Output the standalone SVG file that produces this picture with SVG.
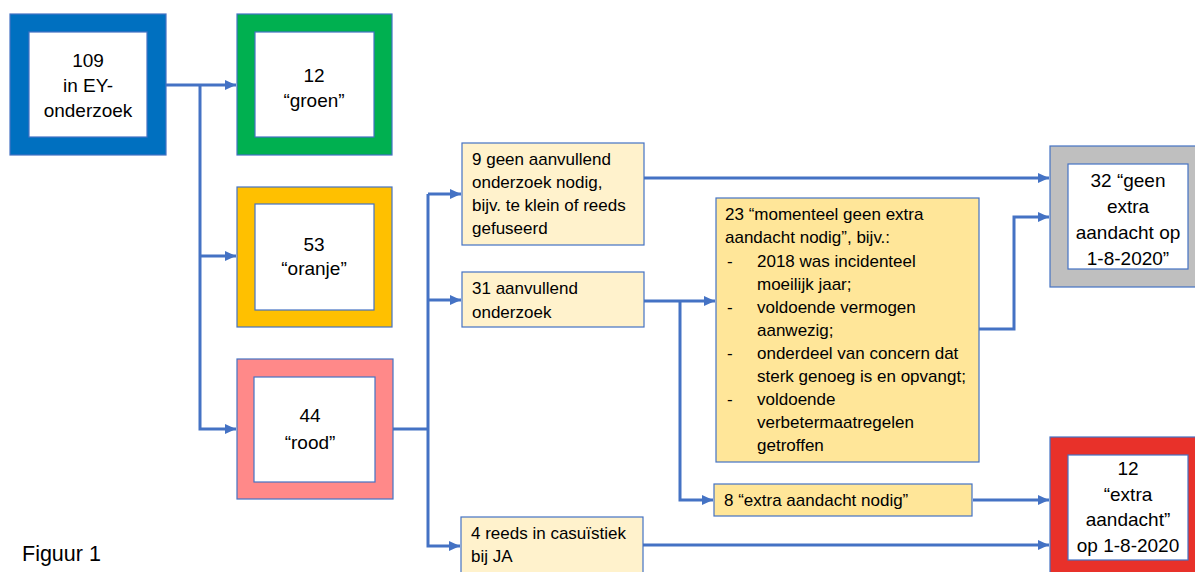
<svg xmlns="http://www.w3.org/2000/svg" width="1195" height="572" viewBox="0 0 1195 572">
<style>
.frame{stroke:#4472C4;stroke-width:1.2}
.inner{fill:#FFFFFF;stroke:#4472C4;stroke-width:1.2}
.note{stroke:#4472C4;stroke-width:1.2}
.big{font-family:"Liberation Sans",Arial,sans-serif;font-size:19px;fill:#000;text-anchor:middle}
.sm{font-family:"Liberation Sans",Arial,sans-serif;font-size:17px;fill:#000}
.con{fill:none;stroke:#4472C4;stroke-width:3}
</style>
<defs>
<marker id="ah" markerUnits="userSpaceOnUse" markerWidth="12" markerHeight="12" refX="11" refY="6" orient="auto">
<path d="M0,1 L11,6 L0,11 Z" fill="#4472C4"/>
</marker>
</defs>
<rect width="1195" height="572" fill="#FFFFFF"/>
<g id="connectors">
<path class="con" d="M166 85 H236" marker-end="url(#ah)"/>
<path class="con" d="M200 85 V429 H236" marker-end="url(#ah)"/>
<path class="con" d="M200 256 H236" marker-end="url(#ah)"/>
<path class="con" d="M393 429 H428"/>
<path class="con" d="M428 194 V546 H460" marker-end="url(#ah)"/>
<path class="con" d="M428 194 H461" marker-end="url(#ah)"/>
<path class="con" d="M428 300 H461" marker-end="url(#ah)"/>
<path class="con" d="M644 178 H1049" marker-end="url(#ah)"/>
<path class="con" d="M644 301 H715" marker-end="url(#ah)"/>
<path class="con" d="M680 301 V500 H713" marker-end="url(#ah)"/>
<path class="con" d="M979 329 H1014 V217 H1049" marker-end="url(#ah)"/>
<path class="con" d="M973 500 H1049" marker-end="url(#ah)"/>
<path class="con" d="M643 545 H1049" marker-end="url(#ah)"/>
</g>
<g id="n109">
<rect class="frame" x="10" y="14" width="156" height="141" fill="#0070C0"/>
<rect class="inner" x="29" y="32" width="118" height="105"/>
<text class="big" x="88" y="67">109</text>
<text class="big" x="88" y="92">in EY-</text>
<text class="big" x="88" y="117">onderzoek</text>
</g>
<g id="groen">
<rect class="frame" x="237" y="14" width="155" height="141" fill="#00B050"/>
<rect class="inner" x="255" y="32" width="119" height="105"/>
<text class="big" x="314" y="82">12</text>
<text class="big" x="314" y="107">“groen”</text>
</g>
<g id="oranje">
<rect class="frame" x="237" y="187" width="155" height="140" fill="#FFC000"/>
<rect class="inner" x="255" y="204" width="119" height="106"/>
<text class="big" x="314" y="251">53</text>
<text class="big" x="314" y="275">“oranje”</text>
</g>
<g id="rood">
<rect class="frame" x="237" y="359" width="156" height="140" fill="#FF8989"/>
<rect class="inner" x="254" y="377" width="121" height="105"/>
<text class="big" x="310" y="422">44</text>
<text class="big" x="310" y="449">“rood”</text>
</g>
<g id="geen-aanvullend">
<rect class="note" x="462" y="143" width="182" height="102" fill="#FFF2CC"/>
<text class="sm" x="472" y="165">9 geen aanvullend</text>
<text class="sm" x="472" y="188">onderzoek nodig,</text>
<text class="sm" x="472" y="211">bijv. te klein of reeds</text>
<text class="sm" x="472" y="234">gefuseerd</text>
</g>
<g id="aanvullend">
<rect class="note" x="462" y="272" width="182" height="55" fill="#FFF2CC"/>
<text class="sm" x="472" y="294">31 aanvullend</text>
<text class="sm" x="472" y="318">onderzoek</text>
</g>
<g id="casuistiek">
<rect class="note" x="461" y="517" width="182" height="70" fill="#FFF2CC"/>
<text class="sm" x="471" y="539">4 reeds in casuïstiek</text>
<text class="sm" x="471" y="562">bij JA</text>
</g>
<g id="momenteel">
<rect class="note" x="716" y="198" width="263" height="264" fill="#FFE699"/>
<text class="sm" x="725" y="220">23 “momenteel geen extra</text>
<text class="sm" x="725" y="243">aandacht nodig”, bijv.:</text>
<text class="sm" x="727" y="267">-</text>
<text class="sm" x="757" y="267">2018 was incidenteel</text>
<text class="sm" x="757" y="290">moeilijk jaar;</text>
<text class="sm" x="727" y="313">-</text>
<text class="sm" x="757" y="313">voldoende vermogen</text>
<text class="sm" x="757" y="336">aanwezig;</text>
<text class="sm" x="727" y="359">-</text>
<text class="sm" x="757" y="359">onderdeel van concern dat</text>
<text class="sm" x="757" y="382">sterk genoeg is en opvangt;</text>
<text class="sm" x="727" y="405">-</text>
<text class="sm" x="757" y="405">voldoende</text>
<text class="sm" x="757" y="428">verbetermaatregelen</text>
<text class="sm" x="757" y="451">getroffen</text>
</g>
<g id="extra-nodig">
<rect class="note" x="714" y="484" width="258" height="32" fill="#FFE699"/>
<text class="sm" x="724" y="506">8 “extra aandacht nodig”</text>
</g>
<g id="geen-extra">
<rect class="frame" x="1050" y="146" width="150" height="141" fill="#BFBFBF"/>
<rect class="inner" x="1068" y="164" width="120" height="105"/>
<text class="big" x="1128" y="187">32 “geen</text>
<text class="big" x="1128" y="213">extra</text>
<text class="big" x="1128" y="239">aandacht op</text>
<text class="big" x="1128" y="265">1-8-2020”</text>
</g>
<g id="extra-aandacht">
<rect class="frame" x="1050" y="437" width="150" height="140" fill="#E8312A"/>
<rect class="inner" x="1068" y="455" width="120" height="105"/>
<text class="big" x="1128" y="475">12</text>
<text class="big" x="1128" y="501">“extra</text>
<text class="big" x="1128" y="526">aandacht”</text>
<text class="big" x="1128" y="552">op 1-8-2020</text>
</g>
<text id="figuur" x="22" y="561" font-family="'Liberation Sans',Arial,sans-serif" font-size="21.5px" fill="#000">Figuur 1</text>
</svg>
